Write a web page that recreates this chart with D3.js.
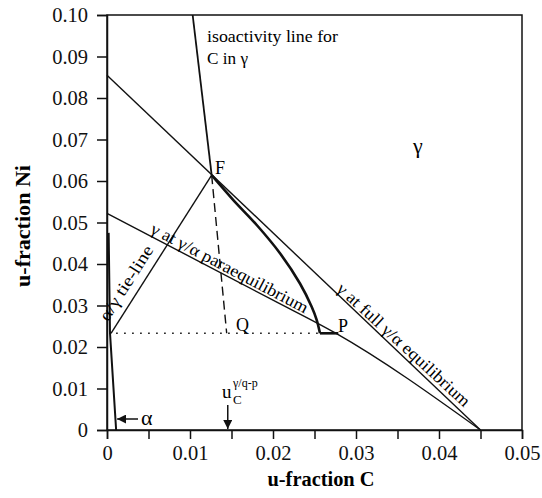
<!DOCTYPE html>
<html>
<head>
<meta charset="utf-8">
<script src="https://cdn.jsdelivr.net/npm/d3@7"></script>
<style>
  body { margin: 0; background: #fff; }
  svg text { font-family: "Liberation Serif", "Times New Roman", serif; }
</style>
</head>
<body>
<svg id="chart" width="542" height="498"></svg>
<script>
// axis ticks
const xTicks = [0, 0.01, 0.02, 0.03, 0.04, 0.05];
const xMinor = [0.005, 0.015, 0.025, 0.035, 0.045];
const yTicks = [0, 0.01, 0.02, 0.03, 0.04, 0.05, 0.06, 0.07, 0.08, 0.09, 0.10];

// gamma at full gamma/alpha equilibrium (straight line)
const fullC = [0, 0.045];
const fullNi = [0.0855, 0];

// gamma at gamma/alpha paraequilibrium (bends near P)
const paraC = [0, 0.02, 0.0275, 0.045];
const paraNi = [0.0522, 0.0313, 0.0234, 0];

// alpha/gamma tie-line
const tieC = [0.00048, 0.01261];
const tieNi = [0.0233, 0.0614];

// isoactivity line for C in gamma: solid part and dashed part
const isoC = [0.01032, 0.01261];
const isoNi = [0.10, 0.0614];
const isoDashC = [0.01261, 0.01442];
const isoDashNi = [0.0614, 0.0233];

// thick path F -> P
const pathC = [0.01261, 0.01522, 0.01804, 0.02084, 0.02325, 0.02466, 0.02527, 0.02566];
const pathNi = [0.0614, 0.0554, 0.0494, 0.0426, 0.0353, 0.0297, 0.0265, 0.0233];
const pathEndC = [0.02566, 0.02787];
const pathEndNi = [0.0233, 0.0233];

// dotted horizontal
const dotC = [0.0011, 0.0256];
const dotNi = [0.0233, 0.0233];

// alpha boundary
const alphaC = [0.0002, 0.00036, 0.0011];
const alphaNi = [0.0475, 0.0234, 0];

const uCmark = 0.01455;

const svg = d3.select('#chart');
const x = d3.scaleLinear().domain([0, 0.05]).range([107, 522]);
const y = d3.scaleLinear().domain([0, 0.10]).range([430, 15]);

const fmtX = (d) => d === 0 ? '0' : d3.format('.2f')(d);

// frame
svg.append('rect')
    .attr('x', x(0)).attr('y', y(0.10))
    .attr('width', x(0.05) - x(0)).attr('height', y(0) - y(0.10))
    .attr('fill', 'none').attr('stroke', '#111').attr('stroke-width', 1.5);

svg.append('g')
    .attr('transform', `translate(0,${y(0)})`)
    .call(d3.axisBottom(x).tickValues(xTicks).tickFormat(fmtX).tickSize(9).tickPadding(6));
svg.append('g')
    .attr('transform', `translate(0,${y(0)})`)
    .call(d3.axisBottom(x).tickValues(xMinor).tickFormat('').tickSize(9))
    .call(g => g.select('.domain').remove());

const yAxis = svg.append('g')
    .attr('transform', `translate(${x(0)},0)`)
    .call(d3.axisLeft(y).tickValues(yTicks).tickFormat(fmtX).tickSize(10).tickPadding(9));

svg.selectAll('g').attr('font-family', null);
svg.selectAll('.tick line').attr('stroke', '#111').attr('stroke-width', 1.5);
svg.selectAll('.domain').attr('stroke', '#111').attr('stroke-width', 1.5);
svg.selectAll('.tick text')
    .attr('font-size', 20.5).attr('fill', '#111');
yAxis.selectAll('.tick text').attr('dy', '0.34em');

// axis titles
svg.append('text')
    .attr('x', 321).attr('y', 486)
    .attr('text-anchor', 'middle')
    .attr('font-size', 20).attr('font-weight', 'bold')
    .attr('textLength', 107).attr('lengthAdjust', 'spacingAndGlyphs')
    .text('u-fraction C');
svg.append('text')
    .attr('transform', 'translate(30,226) rotate(-90)')
    .attr('text-anchor', 'middle')
    .attr('font-size', 20).attr('font-weight', 'bold')
    .attr('textLength', 122).attr('lengthAdjust', 'spacingAndGlyphs')
    .text('u-fraction Ni');

const line = d3.line().x((d) => x(d[0])).y((d) => y(d[1]));
const zipper = (a, b) => a.map((v, i) => [v, b[i]]);

const drawLine = (cs, nis, width, dash, curve) => {
    svg.append('path')
        .datum(zipper(cs, nis))
        .attr('d', line.curve(curve || d3.curveLinear))
        .attr('fill', 'none')
        .attr('stroke', '#111')
        .attr('stroke-width', width)
        .attr('stroke-dasharray', dash);
};

drawLine(fullC, fullNi, 1.4, null);
drawLine(paraC, paraNi, 1.4, null, d3.curveMonotoneX);
drawLine(tieC, tieNi, 1.4, null);
drawLine(isoC, isoNi, 1.8, null);
drawLine(isoDashC, isoDashNi, 1.4, '9,5');
drawLine(dotC, dotNi, 1.6, '1.6,6.4');
drawLine(pathC, pathNi, 2.6, null, d3.curveCatmullRom);
drawLine(pathEndC, pathEndNi, 2.6, null);
drawLine(alphaC, alphaNi, 2, null);

// arrow marker
svg.append('defs').append('marker')
    .attr('id', 'head')
    .attr('viewBox', '0 0 10 10')
    .attr('refX', 10).attr('refY', 5)
    .attr('markerWidth', 9).attr('markerHeight', 9)
    .attr('markerUnits', 'userSpaceOnUse')
    .attr('orient', 'auto')
    .append('path').attr('d', 'M0,0 L10,5 L0,10 Z').attr('fill', '#111');

// alpha arrow
svg.append('line')
    .attr('x1', 138).attr('y1', 419).attr('x2', x(0.0011) + 1).attr('y2', 419)
    .attr('stroke', '#111').attr('stroke-width', 1.5)
    .attr('marker-end', 'url(#head)');
svg.append('text').attr('x', 141).attr('y', 425).attr('font-size', 22).text('α');

// u_C arrow
svg.append('line')
    .attr('x1', x(uCmark)).attr('y1', 405).attr('x2', x(uCmark)).attr('y2', y(0) - 1)
    .attr('stroke', '#111').attr('stroke-width', 1.5)
    .attr('marker-end', 'url(#head)');
svg.append('text').attr('x', 222).attr('y', 398).attr('font-size', 19).text('u');
svg.append('text').attr('x', 233).attr('y', 404).attr('font-size', 13).text('C');
svg.append('text').attr('x', 233).attr('y', 387).attr('font-size', 12).text('γ/q-p');

// point labels
const label = (tx, ty, s, size, len) => {
    const t = svg.append('text')
        .attr('x', tx).attr('y', ty).attr('font-size', size).text(s);
    if (len) t.attr('textLength', len).attr('lengthAdjust', 'spacingAndGlyphs');
    return t;
};
label(215, 174, 'F', 18);
label(236, 331, 'Q', 18);
label(338, 332, 'P', 18);
label(413, 153, 'γ', 22);
label(207, 42, 'isoactivity line for', 17, 131);
label(207, 64, 'C in γ', 17, 41);

// rotated labels along the lines
const rotLabel = (cx, cy, angle, s, len) => svg.append('text')
    .attr('transform', `translate(${cx},${cy}) rotate(${angle})`)
    .attr('text-anchor', 'middle')
    .attr('font-size', 17)
    .attr('textLength', len).attr('lengthAdjust', 'spacingAndGlyphs')
    .text(s);
rotLabel(131, 286, -57.5, 'α/γ tie-line', 86);
rotLabel(227, 273, 27.6, 'γ at γ/α paraequilibrium', 175);
rotLabel(400, 349, 42.5, 'γ at full γ/α equilibrium', 174);
</script>
</body>
</html>
